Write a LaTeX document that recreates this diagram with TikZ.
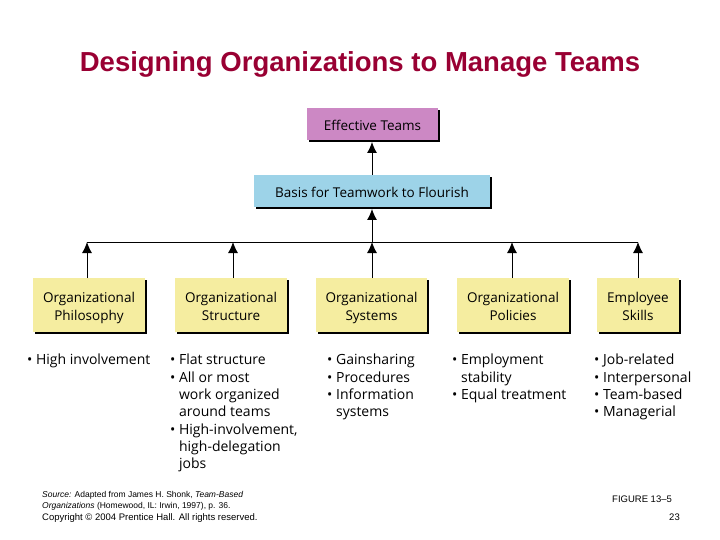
\documentclass[tikz,border=0pt]{standalone}
\usepackage{fontspec}
\usetikzlibrary{arrows.meta}
\setmainfont{Liberation Sans}
\newfontfamily\bodyf{Open Sans}
\newcommand{\shbox}[7]{% name, x1,y1,x2,y2,color,text
 \fill[black] (#2+2,#3+2) rectangle (#4+2,#5+2);
 \fill[#6] (#2,#3) rectangle (#4,#5);
 \node[box] (#1) at ({(#2+#4)/2},{(#3+#5)/2}) {#7};
 \coordinate (#1t) at ({(#2+#4)/2},#3);\coordinate (#1b) at ({(#2+#4)/2},#5+2);}
\begin{document}
\begin{tikzpicture}[x=1pt,y=-1pt,
 box/.style={draw=none,inner sep=0pt,yshift=-3pt,font=\bodyf\fontsize{13.5}{18}\selectfont,align=center},
 arr/.style={-{Latex[length=11pt,width=10pt]},line width=0.9pt},
 bl/.style={anchor=north west,align=left,font=\bodyf\fontsize{14}{17.3}\selectfont,inner sep=0pt}]
\useasboundingbox (0,0) rectangle (720,540);
\definecolor{pur}{HTML}{CC88C4}\definecolor{blu}{HTML}{9DD3E8}\definecolor{yel}{HTML}{F5EDA0}
\definecolor{ttl}{HTML}{990033}
\node[font=\bfseries\fontsize{27.5}{32}\selectfont,text=ttl] (title) at (360,64) {Designing Organizations to Manage Teams};
\shbox{eff}{307}{108}{438}{140}{pur}{\strut Effective Teams}
\shbox{bas}{254}{175}{490}{207}{blu}{\strut Basis for Teamwork to Flourish}
\shbox{phi}{33}{278}{145}{332}{yel}{\strut Organizational\\\strut Philosophy}
\shbox{str}{175}{278}{287}{332}{yel}{\strut Organizational\\\strut Structure}
\shbox{sys}{316}{278}{427}{332}{yel}{\strut Organizational\\\strut Systems}
\shbox{pol}{457}{278}{569}{332}{yel}{\strut Organizational\\\strut Policies}
\shbox{ski}{597}{278}{679}{332}{yel}{\strut Employee\\\strut Skills}
\coordinate (hl) at (87,242);\coordinate (hr) at (638,242);\coordinate (hm) at (372,242);
\draw[line width=0.9pt] (hl) -- (hr);
\foreach \n/\x in {phi/87,str/233,sys/372,pol/512,ski/638}{
 \coordinate (a\n) at (\x,242);
 \coordinate (s\n) at (\x,278);
 \draw[arr] (s\n) -- (a\n);}
\coordinate (bt) at (372,175);
\coordinate (et) at (372,142);
\draw[arr] (hm) -- (basb);
\draw[arr] (bt) -- (et);
\node[bl] (l1) at (27,354) {• High involvement};
\node[bl] (l2) at (170,354) {• Flat structure\\• All or most\\\hphantom{• }work organized\\\hphantom{• }around teams\\• High-involvement,\\\hphantom{• }high-delegation\\\hphantom{• }jobs};
\node[bl] (l3) at (327,354) {• Gainsharing\\• Procedures\\• Information\\\hphantom{• }systems};
\node[bl] (l4) at (452,354) {• Employment\\\hphantom{• }stability\\• Equal treatment};
\node[bl] (l5) at (594,354) {• Job-related\\• Interpersonal\\• Team-based\\• Managerial};
\node[anchor=north west,align=left,inner sep=0pt,font=\fontsize{8.5}{11}\selectfont] (src) at (42,491) {\textit{Source:} Adapted from James H. Shonk, \textit{Team-Based}\\\textit{Organizations} (Homewood, IL: Irwin, 1997), p. 36.};
\node[anchor=north west,inner sep=0pt,font=\fontsize{9.5}{11}\selectfont] (cp) at (42,513) {Copyright © 2004 Prentice Hall. All rights reserved.};
\node[anchor=north west,inner sep=0pt,font=\fontsize{9.5}{11}\selectfont] (fig) at (612,496) {FIGURE 13–5};
\node[anchor=north east,inner sep=0pt,font=\fontsize{9.5}{11}\selectfont] (pg) at (680,514) {23};
\end{tikzpicture}
\end{document}
